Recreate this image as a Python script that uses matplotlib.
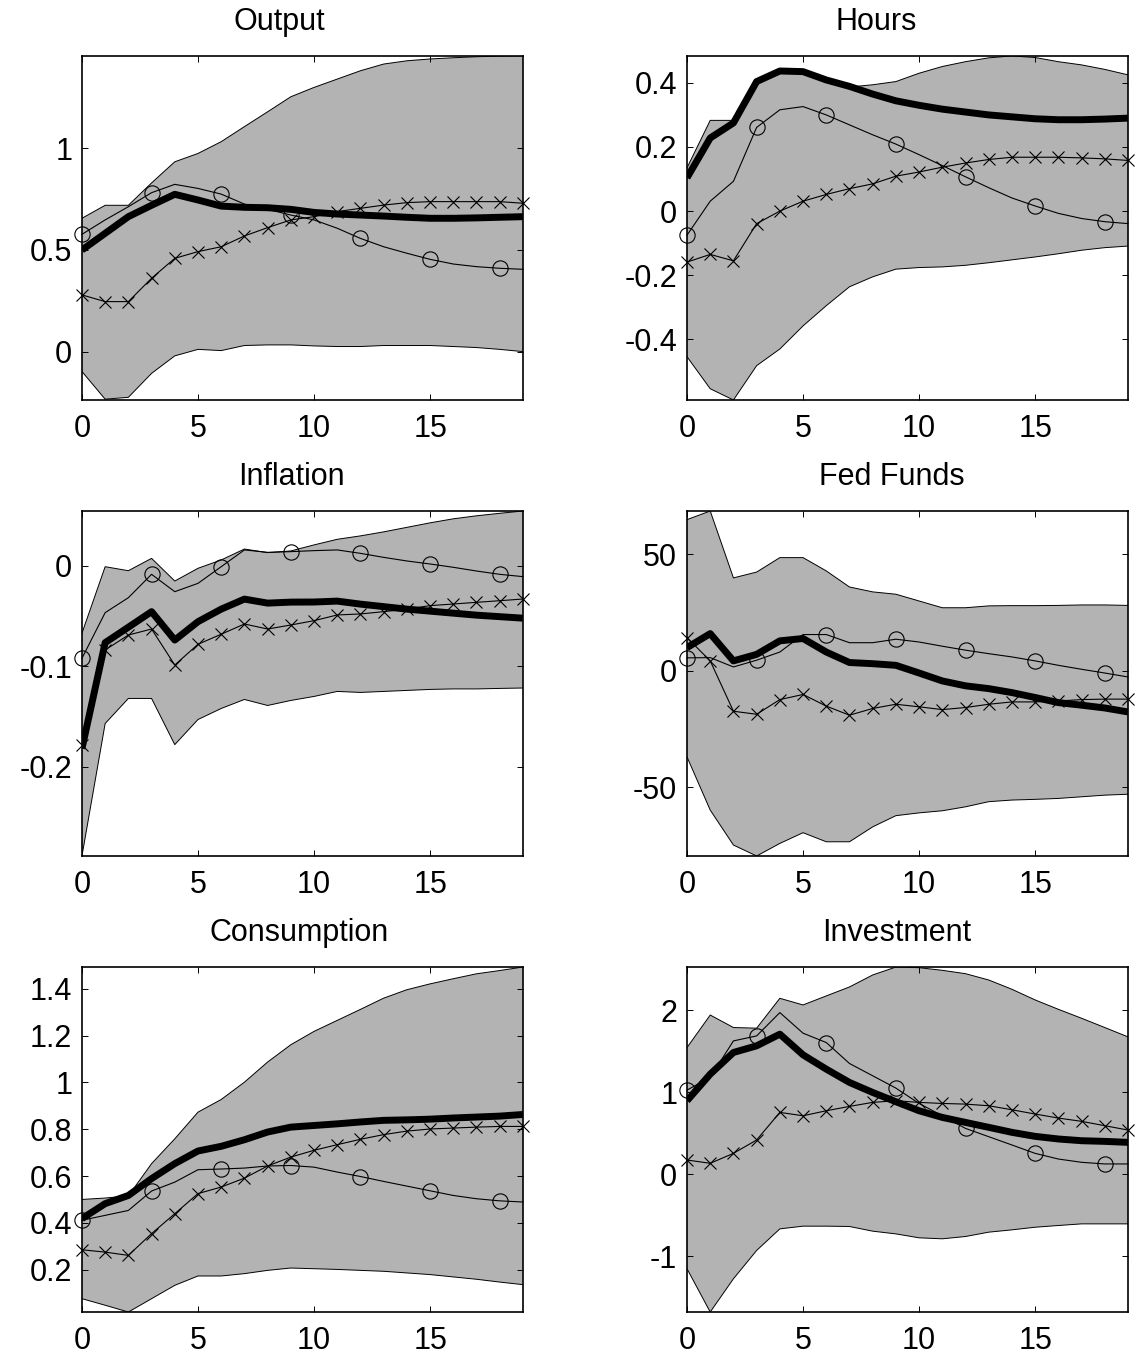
import numpy as np
import matplotlib
matplotlib.use("Agg")
import matplotlib.pyplot as plt

plt.rcParams["font.family"] = ["Liberation Sans", "DejaVu Sans"]
plt.rcParams["font.size"] = 22
plt.rcParams["axes.unicode_minus"] = False

horizon = np.arange(20)

# Output
output_lo = [-0.098, -0.234, -0.225, -0.107, -0.021, 0.011, 0.005, 0.030, 0.033, 0.033,
             0.028, 0.025, 0.025, 0.030, 0.030, 0.030, 0.025, 0.020, 0.011, 0.0]
output_hi = [0.656, 0.720, 0.720, 0.830, 0.934, 0.975, 1.033, 1.107, 1.180, 1.254,
             1.300, 1.341, 1.382, 1.415, 1.431, 1.440, 1.446, 1.451, 1.454, 1.456]
output_med = [0.500, 0.582, 0.664, 0.720, 0.774, 0.746, 0.716, 0.710, 0.708, 0.700,
              0.685, 0.677, 0.672, 0.667, 0.661, 0.656, 0.656, 0.658, 0.661, 0.664]
output_circ = [0.577, 0.648, 0.713, 0.782, 0.823, 0.803, 0.775, 0.726, 0.700, 0.672,
               0.648, 0.607, 0.557, 0.516, 0.484, 0.454, 0.431, 0.418, 0.410, 0.405]
output_cross = [0.279, 0.246, 0.246, 0.361, 0.459, 0.492, 0.516, 0.569, 0.610, 0.648,
                0.664, 0.689, 0.705, 0.721, 0.733, 0.738, 0.738, 0.738, 0.738, 0.730]

# Hours
hours_lo = [-0.454, -0.554, -0.589, -0.482, -0.430, -0.358, -0.295, -0.236, -0.205, -0.181,
            -0.176, -0.174, -0.169, -0.161, -0.152, -0.143, -0.133, -0.122, -0.114, -0.109]
hours_hi = [0.135, 0.283, 0.283, 0.402, 0.435, 0.433, 0.407, 0.387, 0.394, 0.404,
            0.430, 0.451, 0.466, 0.478, 0.484, 0.479, 0.466, 0.456, 0.442, 0.425]
hours_med = [0.104, 0.228, 0.275, 0.404, 0.437, 0.435, 0.409, 0.389, 0.365, 0.344,
             0.330, 0.318, 0.309, 0.300, 0.294, 0.288, 0.285, 0.285, 0.287, 0.290]
hours_circ = [-0.075, 0.031, 0.093, 0.261, 0.316, 0.326, 0.300, 0.269, 0.238, 0.209,
              0.176, 0.142, 0.107, 0.073, 0.041, 0.016, -0.007, -0.023, -0.033, -0.039]
hours_cross = [-0.159, -0.135, -0.155, -0.039, 0.0, 0.031, 0.052, 0.070, 0.085, 0.109,
               0.122, 0.137, 0.150, 0.161, 0.168, 0.168, 0.168, 0.166, 0.163, 0.158]

# Inflation
infl_lo = [-0.289, -0.157, -0.132, -0.132, -0.178, -0.153, -0.142, -0.133, -0.139, -0.134,
           -0.130, -0.125, -0.126, -0.125, -0.124, -0.123, -0.1225, -0.1225, -0.122, -0.1216]
infl_hi = [-0.067, -0.0007, -0.0047, 0.0076, -0.015, -0.0023, 0.006, 0.0169, 0.0133, 0.015,
           0.021, 0.0266, 0.030, 0.034, 0.0385, 0.043, 0.047, 0.050, 0.0525, 0.0548]
infl_med = [-0.182, -0.0764, -0.061, -0.0455, -0.0738, -0.0555, -0.043, -0.033, -0.037, -0.036,
            -0.0359, -0.035, -0.038, -0.0405, -0.043, -0.045, -0.047, -0.049, -0.0505, -0.052]
infl_circ = [-0.092, -0.0465, -0.0316, -0.0083, -0.0256, -0.0173, -0.0007, 0.016, 0.0136, 0.0143,
             0.0153, 0.016, 0.0126, 0.0086, 0.005, 0.002, -0.0013, -0.005, -0.0083, -0.0106]
infl_cross = [-0.178, -0.0837, -0.0688, -0.0628, -0.0987, -0.078, -0.068, -0.0578, -0.0628, -0.0588,
              -0.0545, -0.0488, -0.0478, -0.0455, -0.043, -0.0395, -0.0379, -0.0362, -0.0346, -0.0329]

# Fed Funds
ff_lo = [-36.9, -59.7, -74.7, -79.4, -74.0, -69.4, -73.3, -73.3, -66.9, -62.1,
         -60.9, -60.0, -58.3, -56.1, -55.4, -55.1, -54.7, -54.0, -53.3, -52.9]
ff_hi = [64.9, 68.6, 39.9, 42.4, 48.6, 48.6, 42.9, 36.0, 33.9, 32.9,
         30.0, 27.1, 27.1, 27.9, 28.0, 28.0, 28.1, 28.3, 28.3, 28.1]
ff_med = [10.0, 16.0, 4.3, 7.1, 12.9, 13.9, 8.1, 3.6, 3.1, 2.4,
          -0.9, -4.3, -6.4, -7.6, -9.3, -11.4, -13.6, -14.7, -15.9, -17.6]
ff_circ = [5.6, 5.7, 1.7, 4.6, 8.1, 15.6, 15.6, 12.1, 12.1, 13.6,
           12.4, 10.6, 8.9, 7.4, 6.0, 4.3, 2.4, 0.7, -0.9, -2.6]
ff_cross = [14.3, 4.3, -17.3, -18.6, -12.3, -10.1, -15.1, -19.0, -16.1, -14.3,
            -15.4, -16.6, -15.7, -14.3, -13.3, -13.3, -12.9, -12.3, -12.1, -12.1]

# Consumption
cons_lo = [0.076, 0.048, 0.019, 0.076, 0.133, 0.173, 0.173, 0.183, 0.197, 0.207,
           0.204, 0.201, 0.197, 0.193, 0.186, 0.179, 0.169, 0.159, 0.147, 0.136]
cons_hi = [0.500, 0.506, 0.515, 0.653, 0.759, 0.873, 0.927, 1.001, 1.087, 1.161,
           1.218, 1.265, 1.312, 1.360, 1.396, 1.421, 1.443, 1.464, 1.478, 1.493]
cons_med = [0.418, 0.482, 0.517, 0.589, 0.653, 0.707, 0.727, 0.755, 0.788, 0.809,
            0.816, 0.823, 0.831, 0.838, 0.840, 0.843, 0.848, 0.852, 0.856, 0.863]
cons_circ = [0.411, 0.432, 0.453, 0.536, 0.574, 0.627, 0.630, 0.634, 0.643, 0.645,
             0.638, 0.617, 0.598, 0.577, 0.557, 0.537, 0.517, 0.503, 0.494, 0.489]
cons_cross = [0.285, 0.275, 0.261, 0.354, 0.439, 0.525, 0.553, 0.591, 0.643, 0.681,
              0.710, 0.734, 0.757, 0.777, 0.792, 0.801, 0.805, 0.809, 0.812, 0.812]

# Investment
inv_lo = [-1.151, -1.678, -1.273, -0.928, -0.665, -0.632, -0.632, -0.636, -0.693, -0.726,
          -0.774, -0.786, -0.758, -0.705, -0.677, -0.645, -0.624, -0.604, -0.604, -0.604]
inv_hi = [1.544, 1.940, 1.788, 1.780, 2.144, 2.063, 2.173, 2.282, 2.428, 2.525,
          2.517, 2.485, 2.444, 2.367, 2.254, 2.124, 2.010, 1.901, 1.788, 1.674]
inv_med = [0.896, 1.220, 1.484, 1.565, 1.707, 1.455, 1.281, 1.119, 0.997, 0.884,
           0.774, 0.693, 0.632, 0.572, 0.511, 0.462, 0.430, 0.409, 0.401, 0.389]
inv_circ = [1.026, 1.180, 1.625, 1.686, 1.970, 1.719, 1.605, 1.350, 1.200, 1.050,
            0.863, 0.713, 0.559, 0.458, 0.357, 0.255, 0.186, 0.146, 0.126, 0.126]
inv_cross = [0.174, 0.134, 0.255, 0.418, 0.754, 0.713, 0.774, 0.827, 0.876, 0.896,
             0.876, 0.863, 0.855, 0.835, 0.786, 0.734, 0.685, 0.645, 0.592, 0.539]

titles = ["Output", "Hours", "Inflation", "Fed Funds", "Consumption", "Investment"]
title_x = [0.447, 0.429, 0.476, 0.465, 0.492, 0.476]
yticks = [[0, 0.5, 1], [-0.4, -0.2, 0, 0.2, 0.4], [-0.2, -0.1, 0], [-50, 0, 50],
          [0.2, 0.4, 0.6, 0.8, 1, 1.2, 1.4], [-1, 0, 1, 2]]
ylims = [(-0.238, 1.455), (-0.589, 0.484), (-0.289, 0.0548), (-79.4, 68.6),
         (0.019, 1.493), (-1.678, 2.525)]
panels = [
    (output_lo, output_hi, output_med, output_circ, output_cross),
    (hours_lo, hours_hi, hours_med, hours_circ, hours_cross),
    (infl_lo, infl_hi, infl_med, infl_circ, infl_cross),
    (ff_lo, ff_hi, ff_med, ff_circ, ff_cross),
    (cons_lo, cons_hi, cons_med, cons_circ, cons_cross),
    (inv_lo, inv_hi, inv_med, inv_circ, inv_cross),
]

fig = plt.figure(figsize=(11.35, 13.54), dpi=100)

lefts = [0.0722, 0.6053]
bottoms = [0.7046, 0.3678, 0.0310]
heights = [0.2541, 0.2548, 0.2548]
width = 0.3885

for i, (lo, hi, med, circ, cross) in enumerate(panels):
    row, col = divmod(i, 2)
    ax = fig.add_axes([lefts[col], bottoms[row], width, heights[row]])

    # shaded band with thin black edges
    ax.fill_between(horizon, lo, hi, facecolor="#b3b3b3", edgecolor="none", zorder=1)
    ax.plot(horizon, lo, color="black", lw=0.7, zorder=2)
    ax.plot(horizon, hi, color="black", lw=0.7, zorder=2)
    ax.plot(horizon, circ, color="black", lw=0.8, marker="o", markevery=3,
            markersize=11, markerfacecolor="none", markeredgewidth=0.8,
            clip_on=False, zorder=3)
    ax.plot(horizon, cross, color="black", lw=0.8, marker="x",
            markersize=9, markeredgewidth=0.8, clip_on=False, zorder=3)
    ax.plot(horizon, med, color="black", lw=5, solid_capstyle="butt", zorder=4)

    ax.set_xlim(0, 19)
    ax.set_ylim(*ylims[i])
    ax.set_xticks([0, 5, 10, 15])
    ax.set_yticks(yticks[i])
    ax.set_yticklabels(["%g" % v for v in yticks[i]])
    ax.tick_params(direction="in", length=4, width=0.7, top=True, right=True,
                   labelsize=22)
    ax.tick_params(axis="x", pad=10)
    ax.tick_params(axis="y", pad=7)
    for s in ax.spines.values():
        s.set_linewidth(1.2)

    ax.text(title_x[i], 1 + 26 / 344, titles[i], transform=ax.transAxes,
            ha="center", va="baseline", fontsize=22)

fig.savefig("out.png", dpi=100)
